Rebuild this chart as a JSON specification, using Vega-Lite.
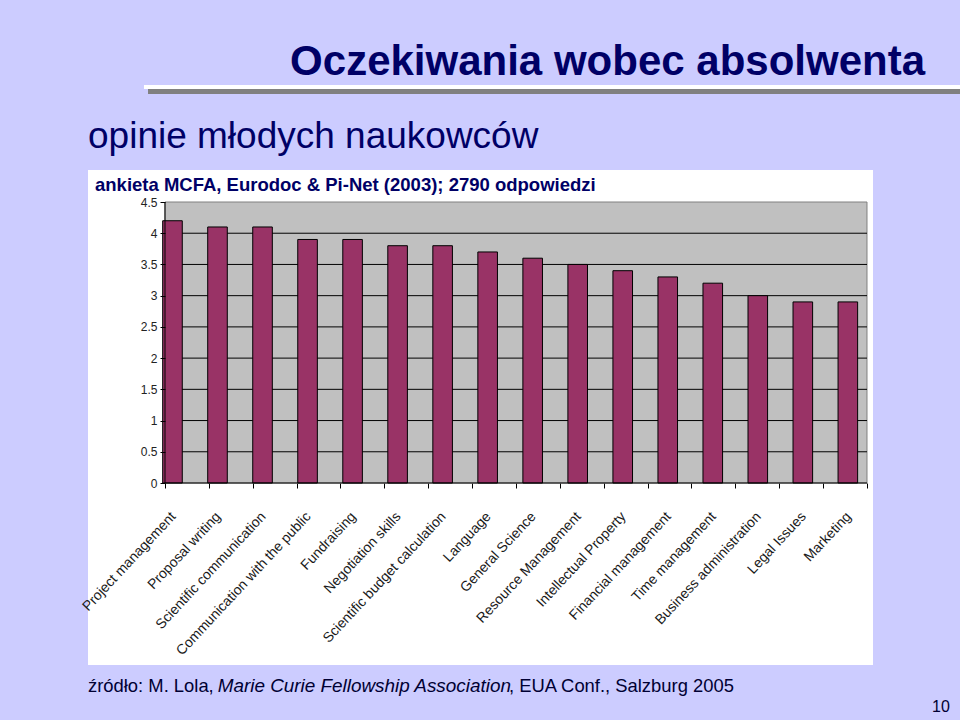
{
  "$schema": "https://vega.github.io/schema/vega-lite/v6.json",
  "width": 785,
  "height": 495,
  "autosize": {"type": "none"},
  "padding": {"left": 88, "top": 170, "right": 87, "bottom": 55},
  "background": "#CCCCFF",
  "config": {
    "view": {"fill": "white", "stroke": null},
    "font": "Liberation Sans"
  },
  "title": {
    "text": "Oczekiwania wobec absolwenta",
    "anchor": "end",
    "frame": "group",
    "font": "Liberation Sans",
    "fontSize": 42,
    "fontWeight": "bold",
    "color": "#000066",
    "baseline": "alphabetic",
    "offset": 11,
    "dx": 52,
    "dy": 43
  },
  "datasets": {
    "skills": [
      {"skill": "Project management", "score": 4.2},
      {"skill": "Proposal writing", "score": 4.1},
      {"skill": "Scientific communication", "score": 4.1},
      {"skill": "Communication with the public", "score": 3.9},
      {"skill": "Fundraising", "score": 3.9},
      {"skill": "Negotiation skills", "score": 3.8},
      {"skill": "Scientific budget calculation", "score": 3.8},
      {"skill": "Language", "score": 3.7},
      {"skill": "General Science", "score": 3.6},
      {"skill": "Resource Management", "score": 3.5},
      {"skill": "Intellectual Property", "score": 3.4},
      {"skill": "Financial management", "score": 3.3},
      {"skill": "Time management", "score": 3.2},
      {"skill": "Business administration", "score": 3.0},
      {"skill": "Legal Issues", "score": 2.9},
      {"skill": "Marketing", "score": 2.9}
    ],
    "grid": [
      {"g": 0.5}, {"g": 1}, {"g": 1.5}, {"g": 2}, {"g": 2.5},
      {"g": 3}, {"g": 3.5}, {"g": 4}
    ]
  },
  "layer": [
    {
      "layer": [
        {
          "data": {"values": [{}]},
          "mark": {"type": "rect", "fill": "#C0C0C0", "stroke": "#808080", "strokeWidth": 1},
          "encoding": {
            "x": {
              "datum": 0, "type": "quantitative",
              "scale": {"domain": [-1.755, 16.137], "nice": false, "zero": false},
              "axis": {
                "orient": "bottom", "offset": -182,
                "values": [0, 1, 2, 3, 4, 5, 6, 7, 8, 9, 10, 11, 12, 13, 14, 15, 16],
                "labels": false, "domain": false, "grid": false,
                "ticks": true, "tickSize": 5, "tickColor": "#000000", "title": null
              }
            },
            "x2": {"datum": 16},
            "y": {
              "datum": 0, "type": "quantitative",
              "scale": {"domain": [-2.9146, 5.0125], "nice": false, "zero": false},
              "axis": {
                "orient": "left", "offset": -77,
                "values": [0, 0.5, 1, 1.5, 2, 2.5, 3, 3.5, 4, 4.5],
                "format": "~g",
                "domain": false, "grid": false,
                "tickSize": 5, "tickColor": "#000000",
                "labelFontSize": 12, "labelColor": "#222222", "labelPadding": 3,
                "labelFont": "Liberation Sans", "zindex": 2,
                "title": null
              }
            },
            "y2": {"datum": 4.5}
          }
        },
        {
          "data": {"name": "grid"},
          "mark": {"type": "rule", "color": "#000000", "strokeWidth": 1},
          "encoding": {
            "x": {"datum": 0, "type": "quantitative", "scale": {"domain": [-1.755, 16.137], "nice": false, "zero": false}},
            "x2": {"datum": 16},
            "y": {"field": "g", "type": "quantitative", "scale": {"domain": [-2.9146, 5.0125], "nice": false, "zero": false}}
          }
        }
      ]
    },
    {
      "data": {"name": "skills"},
      "mark": {"type": "bar", "fill": "#993366", "stroke": "#000000", "strokeWidth": 1},
      "encoding": {
        "x": {
          "field": "skill", "type": "nominal", "sort": null,
          "scale": {"type": "band", "paddingInner": 0.565, "paddingOuter": 1.2285, "align": 0.8294, "round": false},
          "axis": {
            "orient": "bottom", "offset": -182,
            "ticks": false, "domain": false, "grid": false,
            "labelAngle": -47, "labelAlign": "right", "labelBaseline": "middle",
            "labelPadding": 31, "labelOffset": 1, "labelFontSize": 14, "labelColor": "#1a1a1a",
            "labelFont": "Liberation Sans",
            "labelLimit": 400, "labelOverlap": false, "title": null
          }
        },
        "y": {
          "field": "score", "type": "quantitative",
          "scale": {"domain": [-2.9146, 5.0125], "nice": false, "zero": false},
          "axis": {
            "orient": "left", "offset": -77,
            "values": [0, 0.5, 1, 1.5, 2, 2.5, 3, 3.5, 4, 4.5],
            "format": "~g",
            "domain": false, "grid": false,
            "tickSize": 5, "tickColor": "#000000",
            "labelFontSize": 12, "labelColor": "#222222", "labelPadding": 3,
            "labelFont": "Liberation Sans", "zindex": 2,
            "title": null
          }
        },
        "y2": {"datum": 0}
      }
    },
    {
      "data": {"values": [{}]},
      "layer": [
        {
          "mark": {"type": "rule", "color": "#000000", "strokeWidth": 1},
          "encoding": {
            "x": {"datum": 0, "type": "quantitative", "scale": {"domain": [-1.755, 16.137], "nice": false, "zero": false}, "axis": null},
            "y": {"datum": 0, "type": "quantitative", "scale": {"domain": [-2.9146, 5.0125], "nice": false, "zero": false}},
            "y2": {"datum": 4.5}
          }
        },
        {
          "mark": {"type": "rule", "color": "#000000", "strokeWidth": 1},
          "encoding": {
            "x": {"datum": 0, "type": "quantitative", "scale": {"domain": [-1.755, 16.137], "nice": false, "zero": false}, "axis": null},
            "x2": {"datum": 16},
            "y": {"datum": 0, "type": "quantitative", "scale": {"domain": [-2.9146, 5.0125], "nice": false, "zero": false}}
          }
        },
        {
          "mark": {"type": "rule", "color": "#808080", "strokeWidth": 5},
          "encoding": {
            "x": {"datum": -0.387, "type": "quantitative", "scale": {"domain": [-1.755, 16.137], "nice": false, "zero": false}, "axis": null},
            "x2": {"datum": 18.2},
            "y": {"datum": 6.27, "type": "quantitative", "scale": {"domain": [-2.9146, 5.0125], "nice": false, "zero": false}}
          }
        },
        {
          "mark": {"type": "rule", "color": "#FFFFFF", "strokeWidth": 4},
          "encoding": {
            "x": {"datum": -0.479, "type": "quantitative", "scale": {"domain": [-1.755, 16.137], "nice": false, "zero": false}, "axis": null},
            "x2": {"datum": 18.2},
            "y": {"datum": 6.342, "type": "quantitative", "scale": {"domain": [-2.9146, 5.0125], "nice": false, "zero": false}}
          }
        },
        {
          "mark": {"type": "text", "text": "opinie młodych naukowców", "font": "Liberation Sans", "fontSize": 37, "color": "#000066", "align": "left", "baseline": "alphabetic"},
          "encoding": {
            "x": {"datum": -1.755, "type": "quantitative", "scale": {"domain": [-1.755, 16.137], "nice": false, "zero": false}, "axis": null},
            "y": {"datum": 5.365, "type": "quantitative", "scale": {"domain": [-2.9146, 5.0125], "nice": false, "zero": false}}
          }
        },
        {
          "mark": {"type": "text", "text": "ankieta MCFA, Eurodoc & Pi-Net (2003); 2790 odpowiedzi", "font": "Liberation Sans", "fontSize": 18.5, "fontWeight": "bold", "color": "#000066", "align": "left", "baseline": "alphabetic"},
          "encoding": {
            "x": {"datum": -1.595, "type": "quantitative", "scale": {"domain": [-1.755, 16.137], "nice": false, "zero": false}, "axis": null},
            "y": {"datum": 4.676, "type": "quantitative", "scale": {"domain": [-2.9146, 5.0125], "nice": false, "zero": false}}
          }
        },
        {
          "mark": {"type": "text", "text": "źródło: M. Lola,", "font": "Liberation Sans", "fontSize": 18.4, "color": "#000033", "align": "left", "baseline": "alphabetic"},
          "encoding": {
            "x": {"datum": -1.755, "type": "quantitative", "scale": {"domain": [-1.755, 16.137], "nice": false, "zero": false}, "axis": null},
            "y": {"datum": -3.347, "type": "quantitative", "scale": {"domain": [-2.9146, 5.0125], "nice": false, "zero": false}}
          }
        },
        {
          "mark": {"type": "text", "text": "Marie Curie Fellowship Association", "font": "Liberation Sans", "fontSize": 18.9, "fontStyle": "italic", "color": "#000033", "align": "left", "baseline": "alphabetic"},
          "encoding": {
            "x": {"datum": 1.2, "type": "quantitative", "scale": {"domain": [-1.755, 16.137], "nice": false, "zero": false}, "axis": null},
            "y": {"datum": -3.347, "type": "quantitative", "scale": {"domain": [-2.9146, 5.0125], "nice": false, "zero": false}}
          }
        },
        {
          "mark": {"type": "text", "text": ", EUA Conf., Salzburg 2005", "font": "Liberation Sans", "fontSize": 18.4, "color": "#000033", "align": "left", "baseline": "alphabetic"},
          "encoding": {
            "x": {"datum": 7.84, "type": "quantitative", "scale": {"domain": [-1.755, 16.137], "nice": false, "zero": false}, "axis": null},
            "y": {"datum": -3.347, "type": "quantitative", "scale": {"domain": [-2.9146, 5.0125], "nice": false, "zero": false}}
          }
        },
        {
          "mark": {"type": "text", "text": "10", "font": "Liberation Sans", "fontSize": 16, "color": "#000033", "align": "right", "baseline": "alphabetic"},
          "encoding": {
            "x": {"datum": 17.89, "type": "quantitative", "scale": {"domain": [-1.755, 16.137], "nice": false, "zero": false}, "axis": null},
            "y": {"datum": -3.667, "type": "quantitative", "scale": {"domain": [-2.9146, 5.0125], "nice": false, "zero": false}}
          }
        }
      ]
    }
  ],
  "resolve": {"scale": {"x": "independent"}, "axis": {"x": "independent"}}
}
